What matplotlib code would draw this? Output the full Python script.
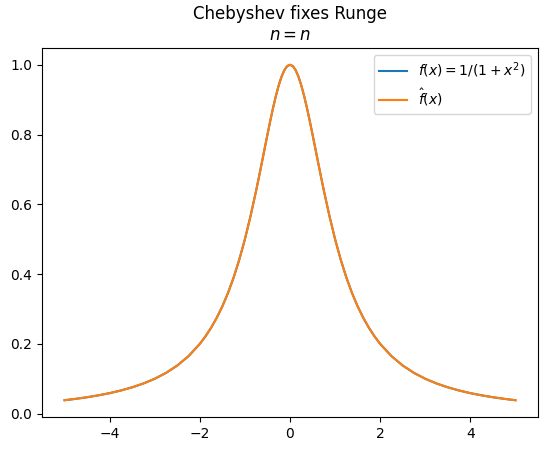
import matplotlib
matplotlib.use("Agg")
import matplotlib.pyplot as plt

x_vals = [-5.0, -4.75, -4.5, -4.25, -4.0, -3.75, -3.5, -3.25, -3.0, -2.75, -2.5, -2.25,
          -2.0, -1.875, -1.75, -1.625, -1.5, -1.375, -1.25, -1.125, -1.0, -0.875, -0.75,
          -0.6875, -0.625, -0.5625, -0.5, -0.4375, -0.375, -0.3125, -0.25, -0.1875,
          -0.125, -0.0625, 0.0, 0.0625, 0.125, 0.1875, 0.25, 0.3125, 0.375, 0.4375,
          0.5, 0.5625, 0.625, 0.6875, 0.75,
          0.875, 1.0, 1.125, 1.25, 1.375, 1.5, 1.625, 1.75, 1.875, 2.0, 2.25, 2.5, 2.75,
          3.0, 3.25, 3.5, 3.75, 4.0, 4.25, 4.5, 4.75, 5.0]
f_vals = [0.0385, 0.0425, 0.0471, 0.0525, 0.0588, 0.0664, 0.0755, 0.0865, 0.1, 0.1168,
          0.1379, 0.1649, 0.2, 0.2215, 0.2462, 0.2747, 0.3077, 0.3459, 0.3902, 0.4414,
          0.5, 0.5664, 0.64, 0.679, 0.7191, 0.7596, 0.8, 0.8393, 0.8767, 0.911, 0.9412,
          0.966, 0.9846, 0.9961, 1.0, 0.9961, 0.9846, 0.966, 0.9412, 0.911,
          0.8767, 0.8393, 0.8, 0.7596, 0.7191, 0.679, 0.64, 0.5664, 0.5, 0.4414, 0.3902,
          0.3459, 0.3077, 0.2747,
          0.2462, 0.2215, 0.2, 0.1649, 0.1379, 0.1168, 0.1, 0.0865, 0.0755, 0.0664,
          0.0588, 0.0525, 0.0471, 0.0425, 0.0385]
fhat_vals = [0.0385, 0.0425, 0.0471, 0.0525, 0.0588, 0.0664, 0.0755, 0.0865, 0.1, 0.1168,
             0.1379, 0.1649, 0.2, 0.2215, 0.2462, 0.2747, 0.3077, 0.3459, 0.3902, 0.4414,
             0.5, 0.5664, 0.64, 0.679, 0.7191, 0.7596, 0.8, 0.8393, 0.8767, 0.911, 0.9412,
             0.966, 0.9846, 0.9961, 1.0, 0.9961, 0.9846, 0.966, 0.9412, 0.911,
             0.8767, 0.8393, 0.8, 0.7596, 0.7191, 0.679, 0.64, 0.5664, 0.5, 0.4414, 0.3902,
             0.3459, 0.3077, 0.2747,
             0.2462, 0.2215, 0.2, 0.1649, 0.1379, 0.1168, 0.1, 0.0865, 0.0755, 0.0664,
             0.0588, 0.0525, 0.0471, 0.0425, 0.0385]

W, H = 547, 451
fig = plt.figure(figsize=(W / 100, H / 100), dpi=100)
left, right, top, bottom = 42, 538, 48, 417
ax = fig.add_axes([left / W, 1 - bottom / H, (right - left) / W, (bottom - top) / H])

ax.plot(x_vals, f_vals, label=r"$f(x) = 1/(1+x^2)$")
ax.plot(x_vals, fhat_vals, label=r"$\hat{f}(x)$")
ax.set_title("Chebyshev fixes Runge\n$n = n$")
ax.legend(loc="upper right")

fig.savefig("out.png", dpi=100)
